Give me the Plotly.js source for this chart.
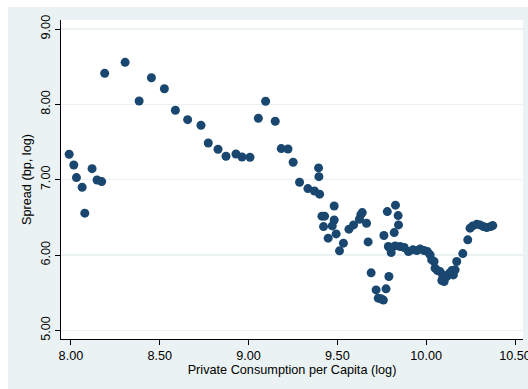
<!DOCTYPE html>
<html><head><meta charset="utf-8">
<script src="https://cdn.plot.ly/plotly-3.0.1.min.js"></script>
<style>html,body{margin:0;padding:0;background:#fff;}#chart{position:absolute;left:8px;top:7px;width:520px;height:382px;}</style>
</head><body><div id="chart"></div>
<script>
const consumption = [7.99,8.016,8.031,8.063,8.078,8.119,8.147,8.173,8.19,8.305,8.384,8.453,8.526,8.588,8.657,8.732,8.773,8.828,8.873,8.929,8.963,9.008,9.055,9.096,9.15,9.184,9.222,9.251,9.287,9.334,9.371,9.4,9.394,9.396,9.482,9.413,9.428,9.422,9.482,9.471,9.493,9.448,9.534,9.512,9.565,9.591,9.624,9.632,9.64,9.664,9.673,9.69,9.718,9.73,9.746,9.759,9.774,9.79,9.762,9.781,9.827,9.842,9.844,9.82,9.793,9.803,9.787,9.825,9.853,9.876,9.9,9.925,9.947,9.966,9.988,10.007,10.022,10.031,10.044,10.05,10.063,10.078,10.093,10.088,10.101,10.116,10.131,10.144,10.153,10.163,10.172,10.206,10.234,10.247,10.262,10.285,10.303,10.322,10.341,10.363,10.375];
const spread = [7.338,7.196,7.028,6.90,6.556,7.147,6.997,6.975,8.412,8.558,8.045,8.354,8.208,7.922,7.797,7.723,7.488,7.404,7.312,7.342,7.302,7.298,7.816,8.041,7.776,7.413,7.408,7.232,6.967,6.882,6.851,6.808,7.157,7.041,6.652,6.516,6.516,6.378,6.466,6.387,6.281,6.224,6.158,6.056,6.344,6.40,6.476,6.537,6.564,6.423,6.175,5.764,5.538,5.428,5.419,5.402,5.552,5.715,6.259,6.577,6.662,6.524,6.40,6.298,6.10,6.033,6.113,6.122,6.113,6.10,6.046,6.069,6.06,6.082,6.06,6.046,6.003,5.936,5.914,5.826,5.794,5.781,5.737,5.662,5.649,5.715,5.76,5.794,5.737,5.804,5.914,6.02,6.202,6.357,6.387,6.41,6.40,6.378,6.365,6.378,6.391];
const xTicks = [8, 8.5, 9, 9.5, 10, 10.5];
const xTickLabels = ["8.00","8.50","9.00","9.50","10.00","10.50"];
const yTicks = [5, 6, 7, 8, 9];
const yTickLabels = ["5.00","6.00","7.00","8.00","9.00"];

const trace = {
  x: consumption, y: spread, type: 'scatter', mode: 'markers',
  marker: {color: '#1a476f', size: 9, line: {width: 0}},
  hoverinfo: 'x+y'
};
const font = {family: 'Liberation Sans, Arial, sans-serif', size: 12.7, color: '#000'};
const layout = {
  width: 520, height: 382,
  margin: {l: 53, r: 5, t: 13, b: 50},
  paper_bgcolor: '#eaf2f3', plot_bgcolor: '#ffffff',
  font: font, showlegend: false,
  xaxis: {
    range: [7.944, 10.545], tickmode: 'array', tickvals: xTicks, ticktext: xTickLabels,
    showgrid: false, zeroline: false, showline: true, linecolor: '#000', linewidth: 1,
    ticks: 'outside', ticklen: 5, tickcolor: '#000', tickfont: font, ticklabeloverflow: 'allow',
    title: {text: 'Private Consumption per Capita (log)', font: font, standoff: 2}
  },
  yaxis: {
    range: [4.886, 9.12], tickmode: 'array', tickvals: yTicks, ticktext: yTickLabels,
    showgrid: true, gridcolor: '#eaf2f3', gridwidth: 1.5, zeroline: false,
    showline: true, linecolor: '#000', linewidth: 1,
    ticks: 'outside', ticklen: 5, tickcolor: '#000', tickfont: font, tickangle: -90,
    title: {text: 'Spread (bp, log)', font: font, standoff: 4}
  }
};
Plotly.newPlot('chart', [trace], layout, {displayModeBar: false, staticPlot: true});
</script></body></html>
